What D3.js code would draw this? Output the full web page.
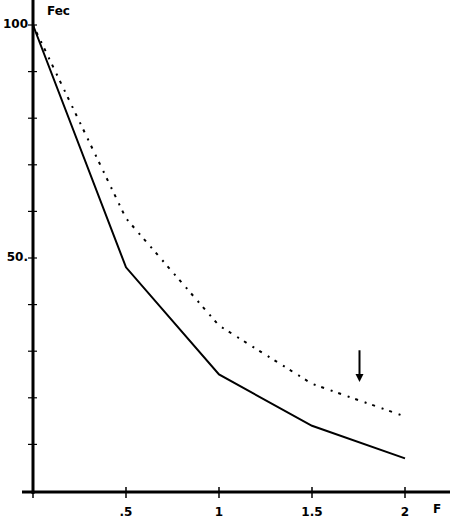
<!DOCTYPE html>
<html><head><meta charset="utf-8">
<script src="https://cdn.jsdelivr.net/npm/d3@7"></script>
<style>body{margin:0;background:#fff}svg{display:block}text{font-family:"DejaVu Sans",Arial,sans-serif;font-weight:bold;fill:#000}</style>
</head><body><svg id="c" width="450" height="520"></svg>
<script>
const xValues = [0, 0.5, 1, 1.5, 2];
const solidSeries = [100, 48, 25, 14, 7];
const dottedSeries = [100, 58.5, 35.5, 23, 16];
const xTickValues = [0.5, 1, 1.5, 2];
const xTickLabels = [".5", "1", "1.5", "2"];
const yTickValues = [10, 20, 30, 40, 50, 60, 70, 80, 90, 100];
const yLabelValues = [100, 50];
const yLabelTexts = ["100", "50."];
const arrowX = 1.75, arrowFrom = 30.2, arrowTo = 23.4;

const svg = d3.select("#c");
const x = d3.scaleLinear().domain([0, 2]).range([33, 405]);
const y = d3.scaleLinear().domain([0, 100]).range([491, 25]);

// axes lines
svg.append("line").attr("x1", x(0)).attr("x2", x(0)).attr("y1", 0).attr("y2", 494)
  .attr("stroke", "#000").attr("stroke-width", 3);
svg.append("line").attr("x1", 22).attr("x2", 450).attr("y1", y(0)+1).attr("y2", y(0)+1)
  .attr("stroke", "#000").attr("stroke-width", 3);

// y ticks
svg.selectAll(".yt").data(yTickValues).join("line").attr("class", "yt")
  .attr("x1", x(0) - 5).attr("x2", x(0) + 4)
  .attr("y1", d => y(d)).attr("y2", d => y(d))
  .attr("stroke", "#000").attr("stroke-width", 1.2);
// x ticks
svg.selectAll(".xt").data([0].concat(xTickValues)).join("line").attr("class", "xt")
  .attr("x1", d => x(d)).attr("x2", d => x(d))
  .attr("y1", y(0) - 4).attr("y2", y(0) + 7)
  .attr("stroke", "#000").attr("stroke-width", 1.5);

svg.selectAll(".xl").data(xTickValues).join("text").attr("class", "xl")
  .attr("x", d => x(d)).attr("y", 516).attr("text-anchor", "middle")
  .attr("font-size", 12).text((d, i) => xTickLabels[i]);
svg.selectAll(".yl").data(yLabelValues).join("text").attr("class", "yl")
  .attr("x", 28).attr("y", d => y(d) + 3).attr("text-anchor", "end")
  .attr("font-size", 12).text((d, i) => yLabelTexts[i]);

svg.append("text").attr("x", 47).attr("y", 15).attr("font-size", 12).text("Fec");
svg.append("text").attr("x", 433).attr("y", 513).attr("font-size", 12).text("F");

const line = d3.line().x((d, i) => x(xValues[i])).y(d => y(d));
svg.append("path").datum(solidSeries).attr("d", line)
  .attr("fill", "none").attr("stroke", "#000").attr("stroke-width", 2);
svg.append("path").datum(dottedSeries).attr("d", line)
  .attr("fill", "none").attr("stroke", "#000").attr("stroke-width", 2)
  .attr("stroke-dasharray", "2,6,3,7");

// arrow
const ax = x(arrowX) + 1;
svg.append("line").attr("x1", ax).attr("x2", ax).attr("y1", y(arrowFrom)).attr("y2", y(arrowTo) - 6)
  .attr("stroke", "#000").attr("stroke-width", 2);
svg.append("path")
  .attr("d", `M${ax-4},${y(arrowTo)-8} L${ax+4},${y(arrowTo)-8} L${ax},${y(arrowTo)} Z`)
  .attr("fill", "#000");
</script></body></html>
